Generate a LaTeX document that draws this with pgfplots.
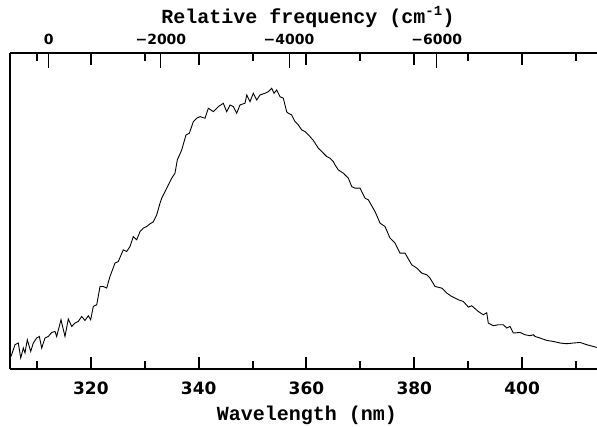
\documentclass[border=0pt]{standalone}
\usepackage{pgfplots}
\pgfplotsset{compat=1.18}
\usepackage{fontspec}
\newfontfamily\labfont{Liberation Mono}
\newfontfamily\ticfont{DejaVu Sans}
\begin{document}
\begin{tikzpicture}
\useasboundingbox (-10pt,-57pt) rectangle (587pt,369pt);
\begin{axis}[
  scale only axis, width=587pt, height=316pt,
  xmin=305, xmax=413.9, ymin=0, ymax=316.3,
  axis x line=box, axis y line=left,
  y axis line style={-, line width=2pt},
  x axis line style={line width=2pt},
  ytick=\empty,
  xtick={320,340,360,380,400},
  minor xtick={310,330,350,370,390,410},
  tick align=inside,
  major tick length=12pt, minor tick length=8pt,
  every tick/.style={black, line width=2pt},
  xtick pos=both,
  xticklabel pos=lower,
  /pgf/number format/assume math mode=true,
  xticklabel style={font=\ticfont\bfseries\fontsize{17}{19}\selectfont, anchor=base, yshift=-25pt},
  xlabel={Wavelength (nm)},
  xlabel style={at={(axis description cs:0.5,0)}, anchor=base, yshift=-51.4pt, xshift=3.5pt, font=\labfont\bfseries\fontsize{20}{24}\selectfont, inner sep=0pt},
  clip=false,
]
\addplot[black, line width=0.9pt] coordinates {
(305.19,12.6) (305.93,24.3) (306.54,26.0) (306.99,11.0) (307.47,21.0) (307.78,16.0)
(308.21,29.3) (308.84,17.6) (309.32,26.0) (309.95,31.0) (310.44,32.6) (310.88,21.0)
(311.49,31.0) (312.11,32.6) (312.74,36.6) (313.35,37.6) (313.66,32.6) (314.46,49.3)
(315.20,32.6) (315.82,50.0) (316.45,42.6) (317.06,46.0) (317.67,47.6) (318.30,52.6)
(318.91,48.6) (319.53,53.3) (319.97,49.3) (320.45,62.6) (321.09,64.3) (321.70,82.6)
(322.31,82.6) (322.94,81.0) (323.55,92.6) (324.48,106.0) (325.09,107.6) (326.02,119.3)
(326.65,117.6) (327.26,122.6) (327.88,132.6) (328.51,129.3) (329.12,137.6) (329.73,141.0)
(330.36,142.6) (330.97,145.3) (331.59,147.3) (332.22,154.3) (332.83,166.0) (333.15,171.0)
(333.76,177.6) (334.37,184.3) (335.00,191.0) (335.61,196.0) (336.04,209.3) (336.86,219.3)
(337.65,234.3) (338.27,236.0) (339.01,247.6) (339.64,251.0) (340.25,252.6) (341.18,251.0)
(341.79,261.0) (342.72,257.6) (343.65,262.6) (344.57,266.0) (345.20,257.6) (345.82,264.3)
(346.43,262.6) (347.06,256.0) (347.67,264.3) (348.60,266.0) (348.92,274.3) (349.53,267.6)
(350.14,276.0) (350.77,269.3) (351.38,274.3) (352.31,276.0) (352.92,277.6) (353.55,281.0)
(353.98,276.0) (354.48,279.3) (355.09,272.6) (355.71,271.0) (356.34,257.3) (356.63,256.0)
(357.26,254.3) (357.88,247.6) (358.49,244.3) (359.12,239.3) (359.73,237.6) (360.05,236.0)
(360.66,232.6) (361.27,228.8) (362.20,221.0) (362.52,219.3) (363.13,216.0) (363.76,212.6)
(364.37,211.0) (364.98,207.6) (365.30,204.3) (365.91,199.3) (366.84,196.0) (367.15,194.3)
(367.77,191.0) (368.40,182.6) (369.01,181.0) (369.94,181.0) (370.86,171.0) (371.48,169.3)
(372.72,157.6) (373.65,146.0) (374.57,142.6) (375.50,131.0) (376.43,126.0) (377.36,116.0)
(378.28,116.0) (379.53,104.3) (380.46,101.0) (381.38,96.0) (382.31,94.3) (382.92,91.0)
(383.85,82.6) (385.09,81.0) (386.02,76.0) (386.95,72.6) (388.17,69.3) (389.10,67.6)
(390.03,62.0) (390.66,63.3) (391.88,57.6) (392.81,54.3) (393.44,56.3) (393.73,46.0)
(394.66,43.3) (395.59,44.3) (396.52,44.3) (397.15,41.0) (397.76,42.6) (398.38,36.0)
(399.62,36.6) (400.55,34.3) (401.48,33.3) (402.09,34.3) (402.41,32.6) (403.33,31.0)
(404.58,28.6) (405.80,27.6) (407.05,26.0) (408.29,25.3) (409.52,26.0) (410.76,26.6)
(412.00,24.3) (413.86,21.6)
};
\end{axis}
\begin{axis}[
  scale only axis, width=587pt, height=316pt,
  xmin=305, xmax=413.9, ymin=0, ymax=316.3,
  hide y axis,
  axis x line*=top,
  x axis line style={line width=2pt},
  xtick={312.2,332.99,356.75,384.16},
  xticklabels={0,−2000,−4000,−6000},
  tick align=inside,
  major tick length=15pt,
  every tick/.style={black, line width=0.8pt},
  xticklabel style={font=\ticfont\bfseries\fontsize{14}{15}\selectfont, anchor=base, yshift=8.5pt},
  xlabel={Relative frequency (cm\textsuperscript{-1})},
  xlabel style={at={(axis description cs:0.5,1)}, anchor=base, yshift=29.7pt, xshift=4.5pt, font=\labfont\bfseries\fontsize{20}{24}\selectfont, inner sep=0pt},
]
\end{axis}
\end{tikzpicture}
\end{document}
